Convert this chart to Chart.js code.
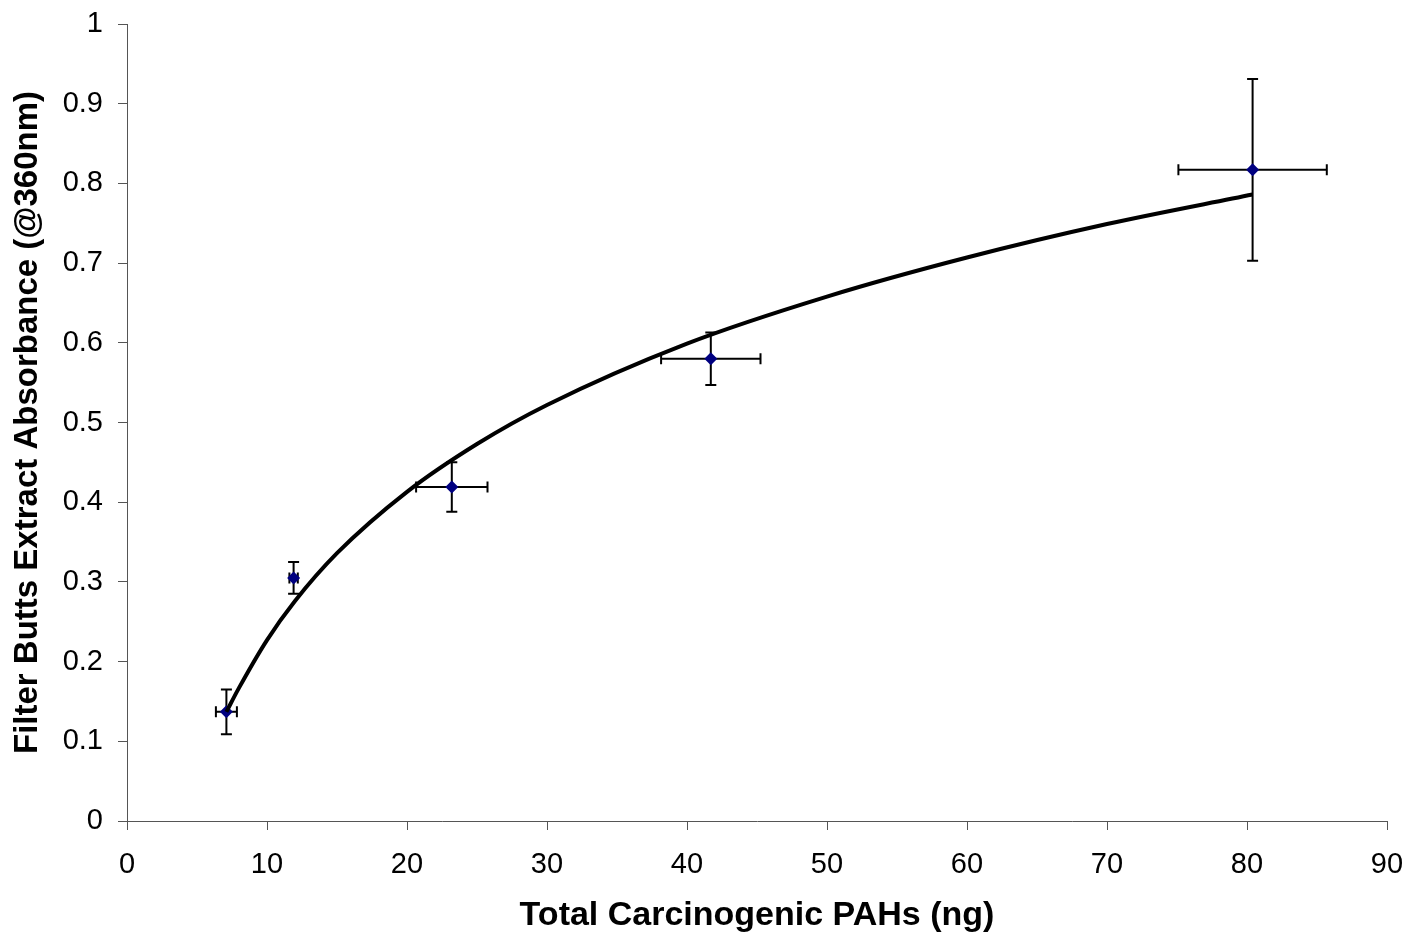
<!DOCTYPE html>
<html>
<head>
<meta charset="utf-8">
<script src="https://cdn.jsdelivr.net/npm/chart.js@4/dist/chart.umd.min.js"></script>
<style>
  html, body { margin: 0; padding: 0; background: #fff; }
  #c { display: block; }
</style>
</head>
<body>
<canvas id="c" width="1412" height="942"></canvas>
<script>
// measured points
var pahX = [7.1, 11.9, 23.2, 41.7, 80.4];
var absY = [0.137, 0.305, 0.419, 0.580, 0.817];
var pahErr = [0.75, 0.3, 2.55, 3.55, 5.3];
var absErr = [0.028, 0.020, 0.031, 0.033, 0.114];

// trend curve
var fitX = [7.1, 8, 10, 12, 15, 20, 25, 30, 40, 50, 60, 70, 80.4];
var fitY = [0.137, 0.167, 0.227, 0.276, 0.336, 0.413, 0.473, 0.522, 0.599, 0.658, 0.707, 0.749, 0.786];

var xTitle = 'Total Carcinogenic PAHs (ng)';
var yTitle = 'Filter Butts Extract Absorbance (@360nm)';

var FONT = 'Arial, "Liberation Sans", sans-serif';
var AXIS_COLOR = '#555555';

function pairs(xs, ys) {
  return xs.map(function(x, i) { return { x: x, y: ys[i] }; });
}

// keep the plot box fixed, no auto padding for overhanging labels
function noPad(s) {
  s.paddingLeft = 0; s.paddingRight = 0;
  s.paddingTop = 0; s.paddingBottom = 0;
}

// draws the x/y error bars with caps, under the markers
var errorBars = {
  id: 'errorBars',
  beforeDatasetsDraw: function(chart) {
    var ctx = chart.ctx;
    var xs = chart.scales.x, ys = chart.scales.y;
    var cap = 5.5;
    ctx.save();
    ctx.strokeStyle = '#000';
    ctx.lineWidth = 2;
    for (var i = 0; i < pahX.length; i++) {
      var px = xs.getPixelForValue(pahX[i]);
      var py = ys.getPixelForValue(absY[i]);
      var x0 = xs.getPixelForValue(pahX[i] - pahErr[i]);
      var x1 = xs.getPixelForValue(pahX[i] + pahErr[i]);
      var y0 = ys.getPixelForValue(absY[i] - absErr[i]);
      var y1 = ys.getPixelForValue(absY[i] + absErr[i]);
      ctx.beginPath();
      ctx.moveTo(x0, py); ctx.lineTo(x1, py);
      ctx.moveTo(x0, py - cap); ctx.lineTo(x0, py + cap);
      ctx.moveTo(x1, py - cap); ctx.lineTo(x1, py + cap);
      ctx.moveTo(px, y0); ctx.lineTo(px, y1);
      ctx.moveTo(px - cap, y0); ctx.lineTo(px + cap, y0);
      ctx.moveTo(px - cap, y1); ctx.lineTo(px + cap, y1);
      ctx.stroke();
    }
    ctx.restore();
  }
};

new Chart(document.getElementById('c'), {
  type: 'scatter',
  data: {
    datasets: [
      {
        type: 'line',
        data: pairs(fitX, fitY),
        borderColor: '#000',
        borderWidth: 4,
        pointRadius: 0,
        fill: false,
        cubicInterpolationMode: 'monotone',
        order: 0
      },
      {
        data: pairs(pahX, absY),
        pointStyle: 'rectRot',
        pointRadius: 6.5,
        pointBackgroundColor: '#000080',
        pointBorderColor: '#000080',
        borderWidth: 0,
        order: 1
      }
    ]
  },
  options: {
    responsive: false,
    devicePixelRatio: 1,
    animation: false,
    layout: { padding: { top: 24, right: 25, left: 0, bottom: 0 } },
    plugins: { legend: { display: false }, tooltip: { enabled: false } },
    scales: {
      x: {
        type: 'linear',
        min: 0, max: 90,
        ticks: { stepSize: 10, color: '#000', font: { family: FONT, size: 29 }, padding: 18, maxRotation: 0 },
        grid: { drawOnChartArea: false, drawTicks: true, tickLength: 9, color: AXIS_COLOR, lineWidth: 1 },
        border: { display: true, color: AXIS_COLOR, width: 1 },
        title: { display: true, text: xTitle, color: '#000', font: { family: FONT, size: 34, weight: 'bold' }, padding: { top: 6, bottom: 6 } },
        afterFit: function(s) { s.height = 121; noPad(s); }
      },
      y: {
        min: 0, max: 1,
        ticks: {
          stepSize: 0.1, color: '#000', font: { family: FONT, size: 29 }, padding: 15,
          callback: function(v) { return String(Math.round(v * 10) / 10); }
        },
        grid: { drawOnChartArea: false, drawTicks: true, tickLength: 9, color: AXIS_COLOR, lineWidth: 1 },
        border: { display: true, color: AXIS_COLOR, width: 1 },
        title: { display: true, text: yTitle, color: '#000', font: { family: FONT, size: 33, weight: 'bold' }, padding: { top: 8, bottom: 8 } },
        afterFit: function(s) { s.width = 127; noPad(s); }
      }
    }
  },
  plugins: [errorBars]
});
</script>
</body>
</html>
